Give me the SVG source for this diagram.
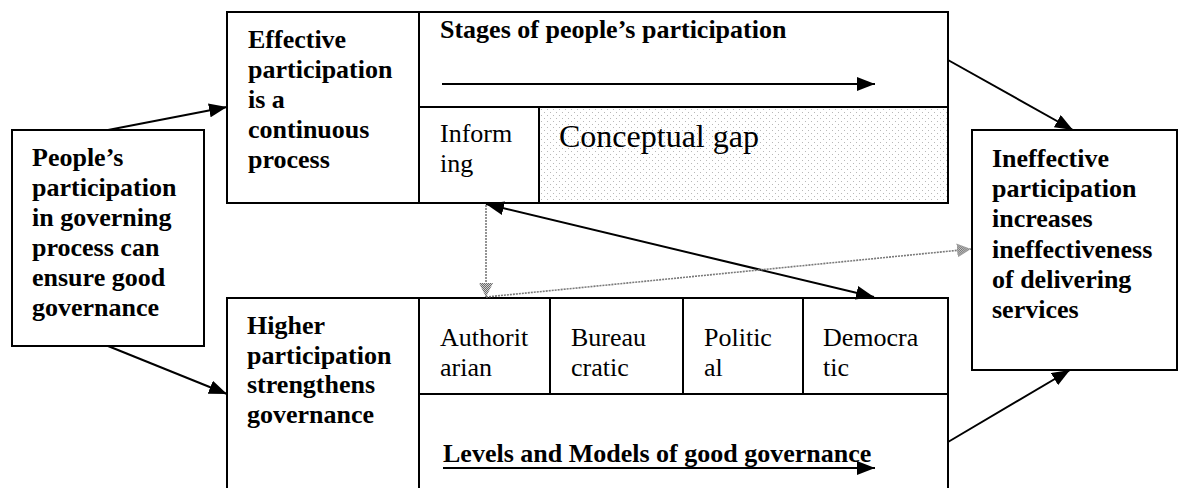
<svg xmlns="http://www.w3.org/2000/svg" width="1179" height="488" viewBox="0 0 1179 488">
  <style>
    .box { fill: #fff; stroke: #000; stroke-width: 2; }
    .div { stroke: #000; stroke-width: 2; fill: none; }
    .b { font-family: "Liberation Serif", "Times New Roman", serif; font-weight: bold; font-size: 26px; fill: #000; }
    .r { font-family: "Liberation Serif", "Times New Roman", serif; font-size: 26px; fill: #000; }
    .big { font-size: 32px; }
    .conn { stroke: #000; stroke-width: 2; fill: none; }
    .dot { stroke: #7a7a7a; stroke-width: 1.6; stroke-dasharray: 2 1; fill: none; }
  </style>
  <defs>
    <pattern id="speckle" width="6" height="6" patternUnits="userSpaceOnUse">
      <rect width="6" height="6" fill="#fff"/>
      <rect x="1" y="1" width="1" height="1" fill="#b8b8b8"/>
      <rect x="4" y="4" width="1" height="1" fill="#b8b8b8"/>
    </pattern>
    <pattern id="checker" width="2" height="2" patternUnits="userSpaceOnUse">
      <rect width="2" height="2" fill="#d0d0d0"/>
      <rect width="1" height="1" fill="#6a6a6a"/>
      <rect x="1" y="1" width="1" height="1" fill="#6a6a6a"/>
    </pattern>
    <marker id="arrow" markerUnits="userSpaceOnUse" markerWidth="20" markerHeight="14" refX="18" refY="7" orient="auto-start-reverse">
      <path d="M0,0 L18,7 L0,14 z" fill="#000"/>
    </marker>
    <marker id="grayArrow" markerUnits="userSpaceOnUse" markerWidth="16" markerHeight="14" refX="14" refY="7" orient="auto">
      <path d="M0,0 L14,7 L0,14 z" fill="url(#checker)"/>
    </marker>
  </defs>

  <!-- people's participation -->
  <g id="node-people">
    <rect class="box" x="12" y="130" width="192" height="216"/>
    <text class="b" x="32" y="166">People’s</text>
    <text class="b" x="32" y="196">participation</text>
    <text class="b" x="32" y="226">in governing</text>
    <text class="b" x="32" y="256">process can</text>
    <text class="b" x="32" y="286">ensure good</text>
    <text class="b" x="32" y="316">governance</text>
  </g>

  <!-- upper panel: effective participation and stages -->
  <g id="node-effective">
    <rect class="box" x="227" y="12" width="192" height="191"/>
    <text class="b" x="248" y="48">Effective</text>
    <text class="b" x="248" y="78">participation</text>
    <text class="b" x="248" y="108">is a</text>
    <text class="b" x="248" y="138">continuous</text>
    <text class="b" x="248" y="168">process</text>
  </g>

  <g id="node-stages">
    <rect class="box" x="419" y="12" width="529" height="95"/>
    <text class="b" x="440" y="38">Stages of people’s participation</text>
    <line class="conn" x1="442" y1="84" x2="875" y2="84" marker-end="url(#arrow)"/>
  </g>

  <g id="node-informing">
    <rect class="box" x="419" y="107" width="120" height="96"/>
    <text class="r" x="440" y="142">Inform</text>
    <text class="r" x="440" y="172">ing</text>
  </g>

  <g id="node-gap">
    <rect x="539" y="107" width="409" height="96" fill="url(#speckle)" stroke="#000" stroke-width="2"/>
    <text class="r big" x="559" y="147">Conceptual gap</text>
  </g>

  <!-- lower panel: higher participation and models -->
  <g id="node-higher">
    <rect class="box" x="227" y="298" width="721" height="200"/>
    <line class="div" x1="419" y1="298" x2="419" y2="498"/>
    <text class="b" x="247" y="334">Higher</text>
    <text class="b" x="247" y="364">participation</text>
    <text class="b" x="247" y="393">strengthens</text>
    <text class="b" x="247" y="423">governance</text>
  </g>

  <g id="node-models">
    <line class="div" x1="419" y1="394" x2="948" y2="394"/>
    <line class="div" x1="550" y1="298" x2="550" y2="394"/>
    <line class="div" x1="683" y1="298" x2="683" y2="394"/>
    <line class="div" x1="803" y1="298" x2="803" y2="394"/>
    <text class="r" x="440" y="346">Authorit</text>
    <text class="r" x="440" y="376">arian</text>
    <text class="r" x="571" y="346">Bureau</text>
    <text class="r" x="571" y="376">cratic</text>
    <text class="r" x="704" y="346">Politic</text>
    <text class="r" x="704" y="376">al</text>
    <text class="r" x="823" y="346">Democra</text>
    <text class="r" x="823" y="376">tic</text>
  </g>

  <g id="node-levels">
    <text class="b" x="443" y="462">Levels and Models of good governance</text>
    <line class="conn" x1="443" y1="468" x2="875" y2="468" marker-end="url(#arrow)"/>
  </g>

  <!-- ineffective participation -->
  <g id="node-ineffective">
    <rect class="box" x="972" y="130" width="205" height="240"/>
    <text class="b" x="992" y="167">Ineffective</text>
    <text class="b" x="992" y="197">participation</text>
    <text class="b" x="992" y="227">increases</text>
    <text class="b" x="992" y="258">ineffectiveness</text>
    <text class="b" x="992" y="288">of delivering</text>
    <text class="b" x="992" y="318">services</text>
  </g>

  <!-- connectors -->
  <g id="connectors">
    <line class="conn" x1="108" y1="130" x2="227" y2="107" marker-end="url(#arrow)"/>
    <line class="conn" x1="108" y1="346" x2="227" y2="394" marker-end="url(#arrow)"/>
    <line class="conn" x1="948" y1="60" x2="1073" y2="130" marker-end="url(#arrow)"/>
    <line class="conn" x1="948" y1="442" x2="1070" y2="370" marker-end="url(#arrow)"/>
    <line class="conn" x1="486" y1="204" x2="874" y2="297" marker-start="url(#arrow)" marker-end="url(#arrow)"/>
    <line class="dot" x1="486" y1="205" x2="486" y2="297" marker-end="url(#grayArrow)"/>
    <line class="dot" x1="486" y1="297" x2="971" y2="249" marker-end="url(#grayArrow)"/>
  </g>
</svg>
